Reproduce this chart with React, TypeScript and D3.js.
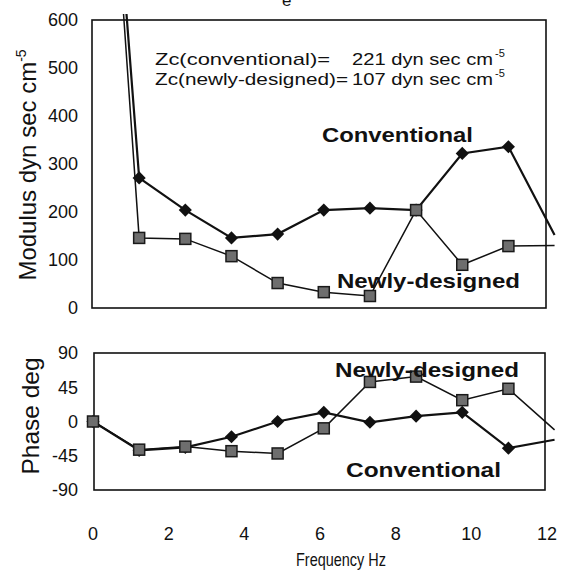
import React, { useEffect, useRef } from "react";
import * as d3 from "d3";

// harmonics of the heart rate, Hz
const freq = [0, 1.22, 2.44, 3.66, 4.88, 6.1, 7.32, 8.54, 9.76, 10.98, 12.2];
const modConv = [1515, 271, 204, 146, 154, 204, 208, 204, 322, 336, 152];
const modNew = [1525, 146, 144, 108, 52, 33, 25, 204, 90, 129, 130];
const phaseConv = [0, -38, -34, -20, 0, 12, -1, 7, 12, -35, -24];
const phaseNew = [0, -37, -33, -39, -42, -9, 52, 59, 28, 43, -11];

const xTicks = [0, 2, 4, 6, 8, 10, 12];
const modTicks = [0, 100, 200, 300, 400, 500, 600];
const phaseTicks = [-90, -45, 0, 45, 90];

const FONT = "'Liberation Sans', Arial, sans-serif";

const App = () => {
  const svgRef = useRef<SVGSVGElement>(null);

  useEffect(() => {
    const svg = d3.select(svgRef.current);
    svg.selectAll("*").remove();

    const x = d3.scaleLinear().domain([0, 12]).range([93, 547]);
    const yMod = d3.scaleLinear().domain([0, 600]).range([308, 20]);
    const yPh = d3.scaleLinear().domain([-90, 90]).range([490, 353]);

    const defs = svg.append("defs");
    defs.append("clipPath").attr("id", "clipTop")
      .append("rect").attr("x", 80).attr("y", 14).attr("width", 476).attr("height", 300);
    defs.append("clipPath").attr("id", "clipBot")
      .append("rect").attr("x", 80).attr("y", 345).attr("width", 476).attr("height", 150);

    const panel = (
      y: d3.ScaleLinear<number, number>,
      conv: number[],
      nw: number[],
      ticks: number[],
      clip: string,
      frameX: [number, number]
    ) => {
      const [y0, y1] = y.range();
      svg.append("rect")
        .attr("x", frameX[0]).attr("y", y1)
        .attr("width", frameX[1] - frameX[0]).attr("height", y0 - y1)
        .attr("fill", "none").attr("stroke", "#111").attr("stroke-width", 1.6);

      svg.append("g").selectAll("text").data(ticks).enter().append("text")
        .attr("x", 78).attr("y", (d) => y(d)).attr("dy", "0.35em")
        .attr("text-anchor", "end").attr("font-family", FONT).attr("font-size", 18)
        .attr("fill", "#111").text((d) => String(d));

      const g = svg.append("g").attr("clip-path", `url(#${clip})`);
      const line = (vals: number[]) =>
        d3.line<number>().x((_, i) => x(freq[i])).y((d) => y(d))(vals);

      g.append("path").attr("d", line(conv)).attr("fill", "none")
        .attr("stroke", "#111").attr("stroke-width", 2.2);
      g.append("path").attr("d", line(nw)).attr("fill", "none")
        .attr("stroke", "#111").attr("stroke-width", 1.5);

      const dom = y.domain();
      const inside = (v: number, i: number) => freq[i] <= 12 && v >= dom[0] && v <= dom[1];
      const diamond = d3.symbol().type(d3.symbolDiamond2).size(110);

      g.selectAll(".dia").data(conv.map((v, i) => ({ v, i })).filter((d) => inside(d.v, d.i)))
        .enter().append("path").attr("class", "dia")
        .attr("d", diamond)
        .attr("transform", (d) => `translate(${x(freq[d.i])},${y(d.v)})`)
        .attr("fill", "#111");

      g.selectAll(".sq").data(nw.map((v, i) => ({ v, i })).filter((d) => inside(d.v, d.i)))
        .enter().append("rect").attr("class", "sq")
        .attr("x", (d) => x(freq[d.i]) - 5.5).attr("y", (d) => y(d.v) - 5.5)
        .attr("width", 11).attr("height", 11)
        .attr("fill", "#6e6e6e").attr("stroke", "#1a1a1a").attr("stroke-width", 1.5);
    };

    panel(yMod, modConv, modNew, modTicks, "clipTop", [92, 546]);
    panel(yPh, phaseConv, phaseNew, phaseTicks, "clipBot", [94, 545]);

    // x tick labels
    svg.append("g").selectAll("text").data(xTicks).enter().append("text")
      .attr("x", (d) => x(d)).attr("y", 540)
      .attr("text-anchor", "middle").attr("font-family", FONT).attr("font-size", 18)
      .attr("fill", "#111").text((d) => String(d));

    svg.append("text").attr("x", 341).attr("y", 566)
      .attr("text-anchor", "middle").attr("font-family", FONT).attr("font-size", 19)
      .attr("textLength", 90).attr("lengthAdjust", "spacingAndGlyphs")
      .attr("fill", "#111").text("Frequency Hz");

    // y titles
    const yt = svg.append("text")
      .attr("transform", "translate(36,165) rotate(-90)")
      .attr("text-anchor", "middle").attr("font-family", FONT).attr("font-size", 24)
      .attr("fill", "#111");
    yt.append("tspan").text("Modulus  dyn sec cm");
    yt.append("tspan").attr("dy", -10).attr("font-size", 14).text("-5");

    svg.append("text")
      .attr("transform", "translate(39,416) rotate(-90)")
      .attr("text-anchor", "middle").attr("font-family", FONT).attr("font-size", 24.5)
      .attr("fill", "#111").text("Phase deg");

    // Zc annotation (scan is stretched sideways, so widths are fixed)
    const ann = [
      { lab: "Zc(conventional)=", labW: 175, val: "221 dyn sec cm", y: 65 },
      { lab: "Zc(newly-designed)=", labW: 193, val: "107 dyn sec cm", y: 85 },
    ];
    ann.forEach((a) => {
      svg.append("text").attr("x", 155).attr("y", a.y)
        .attr("font-family", FONT).attr("font-size", 17).attr("fill", "#111")
        .attr("textLength", a.labW).attr("lengthAdjust", "spacingAndGlyphs")
        .text(a.lab);
      svg.append("text").attr("x", 352).attr("y", a.y)
        .attr("font-family", FONT).attr("font-size", 17).attr("fill", "#111")
        .attr("textLength", 141).attr("lengthAdjust", "spacingAndGlyphs")
        .text(a.val);
      svg.append("text").attr("x", 495).attr("y", a.y - 8)
        .attr("font-family", FONT).attr("font-size", 11).attr("fill", "#111")
        .text("-5");
    });

    // series labels
    const labels = [
      { t: "Conventional", x: 322, y: 142, w: 151 },
      { t: "Newly-designed", x: 337, y: 288, w: 183 },
      { t: "Newly-designed", x: 335, y: 377, w: 184 },
      { t: "Conventional", x: 346, y: 477, w: 155 },
    ];
    svg.append("g").selectAll("text").data(labels).enter().append("text")
      .attr("x", (d) => d.x).attr("y", (d) => d.y)
      .attr("font-family", FONT).attr("font-size", 21).attr("font-weight", "bold")
      .attr("textLength", (d) => d.w).attr("lengthAdjust", "spacingAndGlyphs")
      .attr("fill", "#111").text((d) => d.t);

    // clipped caption letter at the very top
    svg.append("text").attr("x", 282).attr("y", 6)
      .attr("font-family", FONT).attr("font-size", 17).attr("fill", "#111").text("e");

    return () => {
      svg.selectAll("*").remove();
    };
  }, []);

  return (
    <svg
      ref={svgRef}
      width={563}
      height={575}
      style={{ position: "absolute", left: 0, top: 0, background: "#fff" }}
    />
  );
};

export default App;
